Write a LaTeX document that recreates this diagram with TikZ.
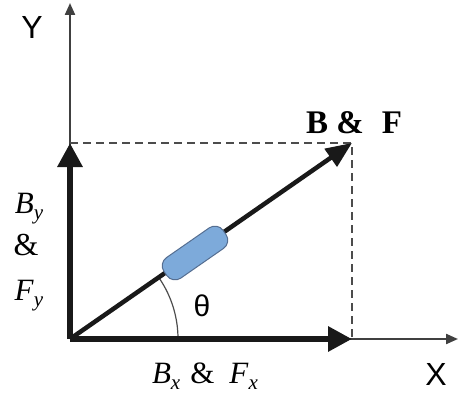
\documentclass[tikz,border=0pt]{standalone}
\usepackage{fontspec}
\setmainfont{Liberation Serif}
\newfontfamily\arialfont{Liberation Sans}
\usetikzlibrary{arrows.meta}
\definecolor{capfill}{RGB}{125,170,218}
\definecolor{capdraw}{RGB}{85,110,145}
\newcommand\vsub[2]{\textit{#1}{\fontsize{21}{21}\selectfont\raisebox{-6pt}{\textit{#2}}}}
\tikzset{
  thinaxis/.style={line width=2.2pt, draw=black!75, -{Triangle[length=12pt,width=10pt]}},
  dashline/.style={line width=2.6pt, draw=black!70, dash pattern=on 8pt off 5pt},
  thickarrow/.style={line width=6pt, draw=black!90, -{Triangle[length=24pt,width=24pt]}},
  vecarrow/.style={line width=4.5pt, draw=black!90, -{Triangle[length=26pt,width=21pt]}},
  capsule/.style={draw=capdraw, line width=1pt, fill=capfill, rounded corners=10pt, minimum width=72pt, minimum height=25pt, inner sep=0pt},
  sanslab/.style={font=\arialfont\fontsize{32}{32}\selectfont, inner sep=0pt},
  serlab/.style={font=\fontsize{31}{31}\selectfont, inner sep=0pt, anchor=base},
  arcline/.style={line width=1.2pt, draw=black!70}
}
\begin{document}
\begin{tikzpicture}[x=1pt,y=-1pt]
\useasboundingbox (0,0) rectangle (458,396);
\coordinate (O) at (70,339);
\coordinate (Ytop) at (70,3);
\coordinate (Xend) at (458,339);
\coordinate (P) at (352,143);
\coordinate (Py) at (70,143);
\coordinate (Px) at (352,339);
% thin axes
\draw[thinaxis] (O) -- (Ytop);
\draw[thinaxis] (O) -- (Xend);
% dashed projections
\draw[dashline] (Py) -- (P) -- (Px);
% angle arc
\draw[arcline] plot[domain=0:34.8,samples=40] ({70+108*cos(\x)},{339-108*sin(\x)});
% component arrows
\draw[thickarrow] (O) -- (Py);
\draw[thickarrow] (O) -- (Px);
% main vector
\draw[vecarrow] (O) -- (P);
% capsule
\node[capsule, rotate=34.8] (cap) at (195,253) {};
% labels
\node[sanslab] (ylab) at (32,27) {Y};
\node[sanslab] (xlab) at (436,374) {X};
\node[sanslab, font=\arialfont\fontsize{30}{30}\selectfont] (theta) at (202,306) {θ};
\node[serlab, font=\bfseries\fontsize{33}{33}\selectfont] (bf) at (354,133) {B \&\hspace{18pt}F};
\node[serlab] (by) at (29,213) {\vsub{B}{y}};
\node[serlab, font=\fontsize{32}{32}\selectfont] (amp) at (26,255) {\&};
\node[serlab] (fy) at (29,300) {\vsub{F}{y}};
\node[serlab] (bxfx) at (205,383) {\vsub{B}{x}\hspace{10pt}\&\hspace{15pt}\vsub{F}{x}};
\end{tikzpicture}
\end{document}
